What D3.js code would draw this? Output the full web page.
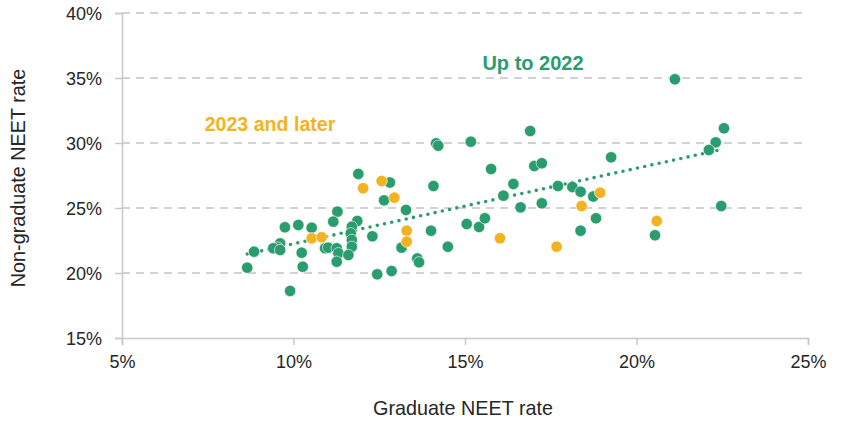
<!DOCTYPE html>
<html>
<head>
<meta charset="utf-8">
<script src="https://cdn.jsdelivr.net/npm/d3@7/dist/d3.min.js"></script>
<style>
  html, body { margin: 0; padding: 0; background: #fff; }
  svg { display: block; }
  text { font-family: "Liberation Sans", Arial, sans-serif; }
</style>
</head>
<body>
<svg id="chart" width="848" height="421"></svg>
<script>
// Up to 2022 (graduate NEET %, non-graduate NEET %)
const greenX = [11.89,12.81,12.64,13.28,14.08,11.28,11.16,11.86,11.70,11.67,11.70,11.70,9.75,10.14,10.53,8.85,9.61,9.54,9.41,9.61,10.24,10.92,11.01,11.26,11.31,11.26,8.65,10.27,9.90,11.60,12.30,13.15,13.61,13.66,12.44,12.86,16.90,14.16,14.22,15.17,15.76,17.02,17.24,16.41,16.12,16.62,17.24,14.01,15.05,15.41,15.58,14.50,17.71,18.13,18.37,18.74,18.82,18.37,19.26,21.12,22.55,22.31,22.11,22.47,20.54];
const greenY = [27.62,26.96,25.59,24.85,26.69,24.72,23.95,24.00,23.56,23.05,22.54,22.02,23.52,23.69,23.48,21.64,22.28,21.95,21.90,21.77,21.56,21.90,21.95,21.90,21.52,20.87,20.41,20.48,18.62,21.38,22.82,21.95,21.12,20.82,19.90,20.15,30.92,29.98,29.79,30.10,28.00,28.23,28.44,26.85,25.95,25.05,25.36,23.25,23.77,23.54,24.21,22.02,26.69,26.62,26.25,25.88,24.21,23.25,28.90,34.90,31.13,30.05,29.46,25.15,22.90];
// 2023 and later
const orangeX = [10.53,10.82,12.03,12.57,12.94,13.30,13.30,16.02,17.67,18.40,18.94,20.59];
const orangeY = [22.67,22.75,26.52,27.08,25.79,23.25,22.41,22.67,22.02,25.15,26.18,24.00];
// Trend line (up to 2022), end points
const trendX = [8.65, 22.55];
const trendY = [21.46, 29.54];
const xTicks = [5, 10, 15, 20, 25];
const yTicks = [15, 20, 25, 30, 35, 40];

const GREEN = "#2a9d6f", ORANGE = "#f2b322", GRID = "#c3c3c3", AXIS = "#c8c8c8", TXT = "#262626";
const FONT = "'Liberation Sans', Arial, sans-serif";
const svg = d3.select("#chart");
const x = d3.scaleLinear().domain([5, 25]).range([122, 808]);
const y = d3.scaleLinear().domain([15, 40]).range([338, 13]);

// gridlines
svg.append("g").selectAll("line").data(yTicks.filter(t => t > 15)).join("line")
  .attr("x1", x(5)).attr("x2", x(25))
  .attr("y1", d => y(d)).attr("y2", d => y(d))
  .attr("stroke", GRID).attr("stroke-width", 1.6).attr("stroke-dasharray", "8,6");

// axes
const xAxis = svg.append("g").attr("transform", `translate(0,${y(15)})`)
  .call(d3.axisBottom(x).tickValues(xTicks).tickSize(7).tickPadding(10).tickFormat(d => d + "%"));
const yAxis = svg.append("g").attr("transform", `translate(${x(5)},0)`)
  .call(d3.axisLeft(y).tickValues(yTicks).tickSize(7).tickPadding(13).tickFormat(d => d + "%"));
[xAxis, yAxis].forEach(g => {
  g.select(".domain").attr("stroke", AXIS).attr("stroke-width", 1.5);
  g.selectAll(".tick line").attr("stroke", AXIS).attr("stroke-width", 1.5);
  g.selectAll(".tick text").attr("fill", TXT).style("font-size", "18px").style("font-family", FONT);
});
yAxis.selectAll(".tick text").attr("dy", "0.34em");
xAxis.selectAll(".tick text").attr("dy", "0.71em");

// trend line
svg.append("path")
  .datum(trendX.map((d, i) => [d, trendY[i]]))
  .attr("d", d3.line().x(d => x(d[0])).y(d => y(d[1])))
  .attr("fill", "none").attr("stroke", GREEN).attr("stroke-width", 3.6)
  .attr("stroke-linecap", "round").attr("stroke-dasharray", "0,7.4");

// points
const greenData = greenX.map((d, i) => [d, greenY[i]]);
const orangeData = orangeX.map((d, i) => [d, orangeY[i]]);
svg.append("g").selectAll("circle").data(greenData).join("circle")
  .attr("cx", d => x(d[0])).attr("cy", d => y(d[1])).attr("r", 5.7)
  .attr("fill", GREEN).attr("stroke", "#fff").attr("stroke-width", 0.6);
svg.append("g").selectAll("circle").data(orangeData).join("circle")
  .attr("cx", d => x(d[0])).attr("cy", d => y(d[1])).attr("r", 5.7)
  .attr("fill", ORANGE).attr("stroke", "#fff").attr("stroke-width", 0.6);

// series labels
svg.append("text").attr("x", 533).attr("y", 69.5).attr("text-anchor", "middle")
  .attr("fill", GREEN).style("font-size", "20px").style("font-weight", "bold").text("Up to 2022");
svg.append("text").attr("x", 270).attr("y", 131).attr("text-anchor", "middle")
  .attr("fill", ORANGE).style("font-size", "19.6px").style("font-weight", "bold").text("2023 and later");

// axis titles
svg.append("text").attr("x", 463).attr("y", 415).attr("text-anchor", "middle")
  .attr("fill", TXT).style("font-size", "19.8px").text("Graduate NEET rate");
svg.append("text").attr("transform", "translate(25,178) rotate(-90)").attr("text-anchor", "middle")
  .attr("fill", TXT).style("font-size", "19.8px").text("Non-graduate NEET rate");
</script>
</body>
</html>
